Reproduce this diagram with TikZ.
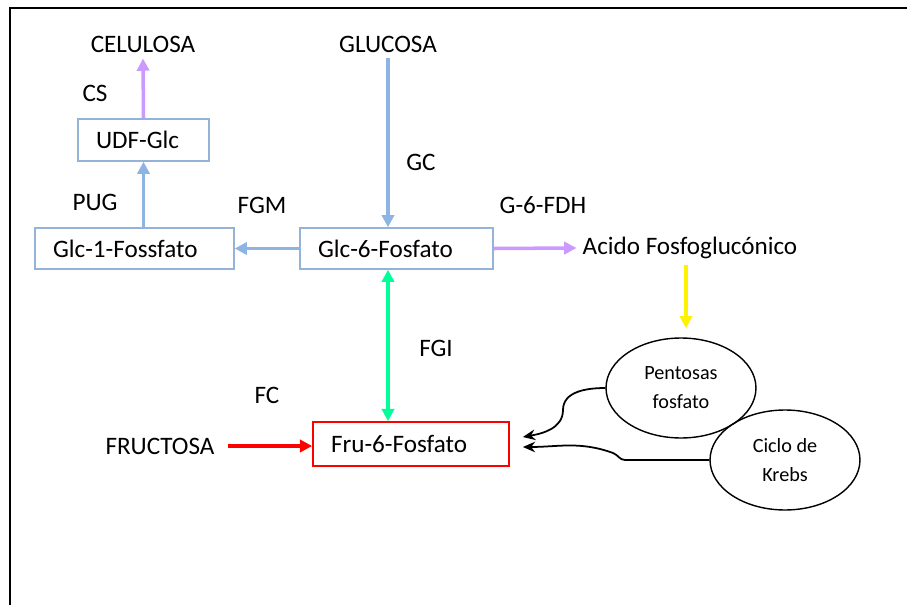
\documentclass[tikz,border=0pt]{standalone}
\usepackage{fontspec}
\setmainfont{Carlito}
\usetikzlibrary{arrows.meta, positioning, shapes.geometric}
\definecolor{azul}{RGB}{141,180,226}
\definecolor{cajaazul}{RGB}{149,179,215}
\definecolor{lila}{RGB}{204,153,255}
\definecolor{verde}{RGB}{0,255,153}

\begin{document}
\begin{tikzpicture}[x=0.02cm, y=-0.02cm,
    font=\fontsize{14.3}{17}\selectfont,
    caja/.style={draw=cajaazul, line width=0.8pt, inner xsep=0.36cm, align=left, minimum height=0.84cm},
    flecha/.style={line width=2pt, -{Triangle[length=7pt,width=7pt]}},
    curva/.style={line width=1pt, -{Stealth[length=7pt,width=6pt]}},
    ciclo/.style={draw, ellipse, line width=0.8pt, minimum width=3cm, minimum height=2cm,
        align=center, font=\fontsize{11.5}{16.5}\selectfont}]
    \useasboundingbox (0,0) rectangle (907,605);

    % 边框
    \draw[line width=1pt] (10,605) -- (10,8) -- (907,8);

    % 方框
    \node[caja, text width=1.9cm] (udf) at (143.5,140) {UDF-Glc};
    \node[caja, text width=3.26cm, minimum height=0.82cm] (glcuno) at (134.5,248.5) {Glc-1-Fossfato};
    \node[caja, text width=3.14cm, minimum height=0.82cm] (glcseis) at (396.5,248.5) {Glc-6-Fosfato};
    \node[caja, draw=red, line width=1pt, text width=3.2cm, minimum height=0.88cm] (fru) at (411,444) {Fru-6-Fosfato};

    % 椭圆
    \node[ciclo] (pentosas) at (681,388) {Pentosas\\fosfato};
    \node[ciclo] (krebs) at (785,460) {Ciclo de\\Krebs};

    % 文字
    \node (celulosa) at (143,44) {CELULOSA};
    \node (glucosa) at (388,44) {GLUCOSA};
    \node (acido) at (690,248) {Acido Fosfoglucónico};
    \node (fructosa) at (160,446) {FRUCTOSA};
    \node (cs) at (95,93) {CS};
    \node (pug) at (95,202) {PUG};
    \node (fgm) at (262,205) {FGM};
    \node (gc) at (421,162) {GC};
    \node (gfdh) at (543,205) {G-6-FDH};
    \node (fgi) at (436,348) {FGI};
    \node (fc) at (267,395) {FC};

    % 箭头
    \draw[flecha, lila] (udf.north) -- (celulosa.south);
    \draw[flecha, azul] (glcuno.north -| udf) -- (udf.south);
    \draw[flecha, azul] (glcseis.west) -- (glcuno.east);
    \draw[flecha, azul] (glucosa.south) -- (glucosa.south |- glcseis.north);
    \draw[flecha, lila] (glcseis.east) -- (acido.west);
    \draw[flecha, yellow, shorten >=0.18cm] (acido.south -| 686,0) -- (pentosas.north -| 686,0);
    \draw[flecha, verde, {Triangle[length=7pt,width=7pt]}-{Triangle[length=7pt,width=7pt]}]
        (glcseis.south -| glucosa.south) -- (fru.north -| glucosa.south);
    \draw[flecha, red, shorten <=0.14cm] (fructosa.east) -- (fructosa.east -| fru.west);

    % 曲线箭头
    \draw[curva] (pentosas.west) to[out=180,in=90] (563,410)
        to[out=-90,in=10] ([xshift=0.26cm, yshift=0.14cm]fru.east);
    \draw[curva] (krebs.west) -- (625,460) to[out=180,in=-20] (613,453)
        to[out=160,in=0] ([xshift=0.26cm, yshift=-0.06cm]fru.east);
\end{tikzpicture}
\end{document}
